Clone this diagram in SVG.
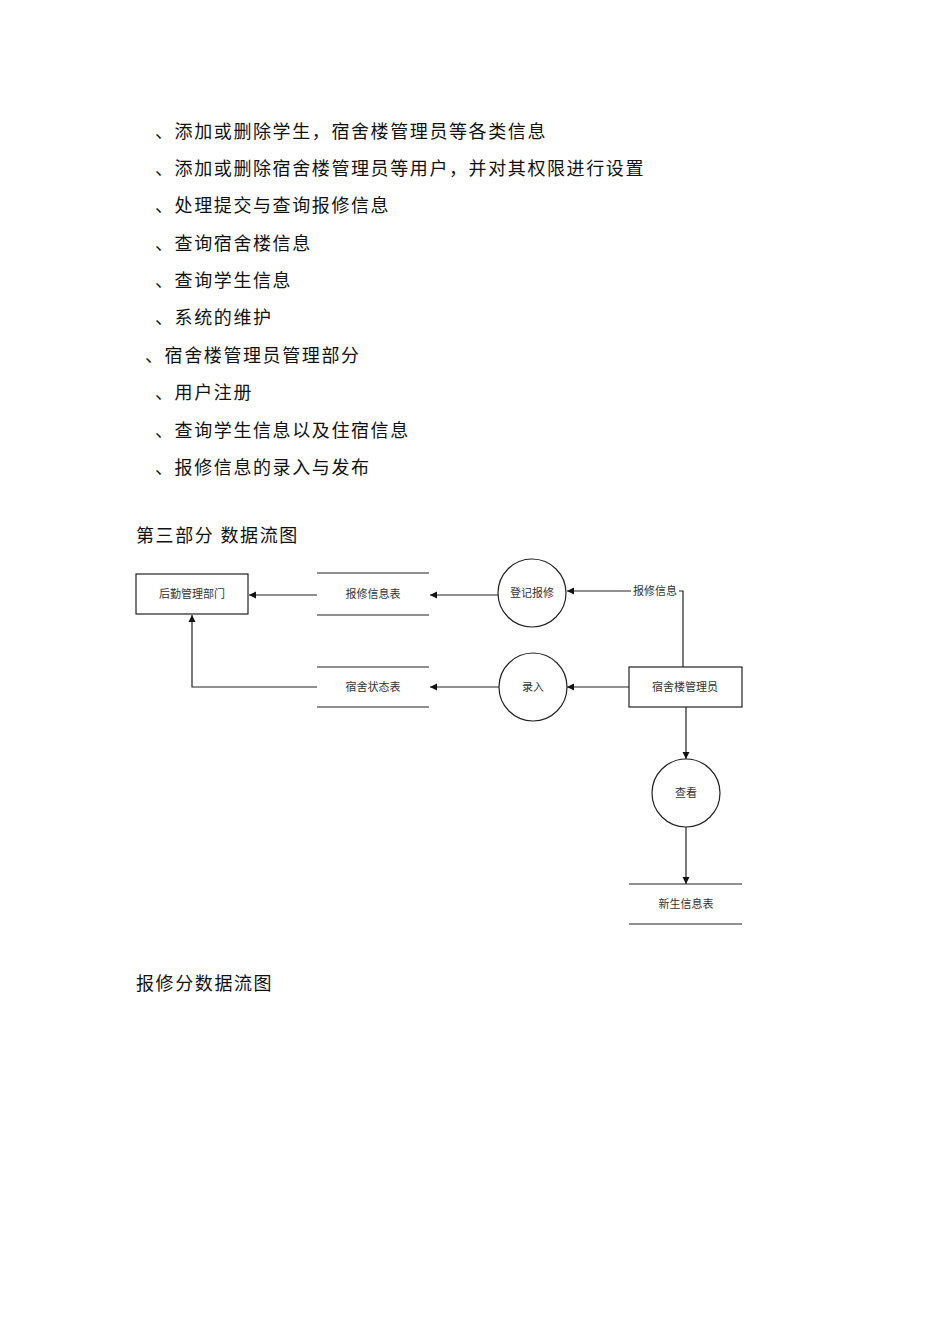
<svg xmlns="http://www.w3.org/2000/svg" width="950" height="1344" viewBox="0 0 950 1344">
<style>
.t{font-family:"Liberation Serif","Noto Sans CJK SC",serif;font-size:18px;fill:#111;letter-spacing:1.6px}
.s{font-family:"Liberation Serif","Noto Sans CJK SC",serif;font-size:11px;fill:#333;text-anchor:middle;dominant-baseline:central}
.b{fill:#fff;stroke:#222;stroke-width:1.2}
.l{stroke:#222;stroke-width:1.2;fill:none}
</style>
<defs><marker id="a" markerWidth="8" markerHeight="8" refX="7" refY="4" orient="auto" markerUnits="userSpaceOnUse"><path d="M0,0.5L7,4L0,7.5z" fill="#111"/></marker></defs>
<rect width="950" height="1344" fill="#fff"/>
<g id="text">
<text class="t" x="155" y="138">、添加或删除学生，宿舍楼管理员等各类信息</text>
<text class="t" x="155" y="175">、添加或删除宿舍楼管理员等用户，并对其权限进行设置</text>
<text class="t" x="155" y="212">、处理提交与查询报修信息</text>
<text class="t" x="155" y="250">、查询宿舍楼信息</text>
<text class="t" x="155" y="287">、查询学生信息</text>
<text class="t" x="155" y="324">、系统的维护</text>
<text class="t" x="145" y="362">、宿舍楼管理员管理部分</text>
<text class="t" x="155" y="399">、用户注册</text>
<text class="t" x="155" y="437">、查询学生信息以及住宿信息</text>
<text class="t" x="155" y="474">、报修信息的录入与发布</text>
<text class="t" x="136" y="542">第三部分  数据流图</text>
<text class="t" x="136" y="990">报修分数据流图</text>
</g>
<g id="connectors">
<line class="l" x1="317" y1="595" x2="249" y2="595" marker-end="url(#a)"/>
<polyline class="l" points="317,687 192,687 192,615" marker-end="url(#a)"/>
<line class="l" x1="499" y1="595" x2="430" y2="595" marker-end="url(#a)"/>
<line class="l" x1="500" y1="687" x2="430" y2="687" marker-end="url(#a)"/>
<line class="l" x1="629" y1="687" x2="567" y2="687" marker-end="url(#a)"/>
<polyline class="l" points="683,667 683,591 567,591" marker-end="url(#a)"/>
<rect x="631" y="584" width="48" height="14" fill="#fff"/>
<text class="s" x="655" y="591">报修信息</text>
<line class="l" x1="686" y1="707" x2="686" y2="759" marker-end="url(#a)"/>
<line class="l" x1="686" y1="827" x2="686" y2="884" marker-end="url(#a)"/>
</g>
<g id="n1"><rect class="b" x="136" y="574" width="112" height="40"/><text class="s" x="192" y="594">后勤管理部门</text></g>
<g id="n2"><line class="l" x1="317" y1="573" x2="429" y2="573"/><line class="l" x1="317" y1="615" x2="429" y2="615"/><text class="s" x="373" y="594">报修信息表</text></g>
<g id="n3"><circle class="b" cx="532" cy="593" r="34"/><text class="s" x="532" y="593">登记报修</text></g>
<g id="n4"><line class="l" x1="317" y1="667" x2="429" y2="667"/><line class="l" x1="317" y1="707" x2="429" y2="707"/><text class="s" x="373" y="687">宿舍状态表</text></g>
<g id="n5"><circle class="b" cx="533" cy="687" r="34"/><text class="s" x="533" y="687">录入</text></g>
<g id="n6"><rect class="b" x="629" y="667" width="113" height="40"/><text class="s" x="685" y="687">宿舍楼管理员</text></g>
<g id="n7"><circle class="b" cx="686" cy="793" r="34"/><text class="s" x="686" y="793">查看</text></g>
<g id="n8"><line class="l" x1="629" y1="884" x2="742" y2="884"/><line class="l" x1="629" y1="924" x2="742" y2="924"/><text class="s" x="686" y="904">新生信息表</text></g>
</svg>
